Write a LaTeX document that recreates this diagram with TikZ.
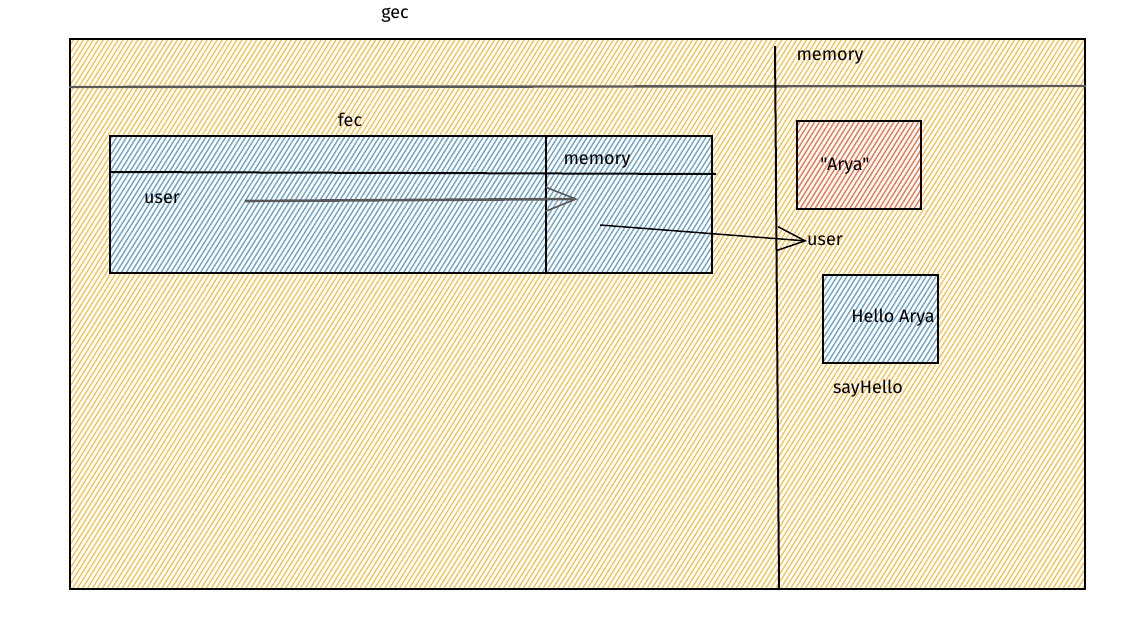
\documentclass[tikz,border=0pt]{standalone}
\usepackage{fontspec}
\setmainfont{Fira Sans}[Ligatures=TeXOff]
\usetikzlibrary{patterns.meta,arrows.meta}
\definecolor{hyellow}{HTML}{F6BE45}
\definecolor{hblue}{HTML}{5FA8E8}
\definecolor{hred}{HTML}{F2725E}
\begin{document}
\begin{tikzpicture}[x=1pt,y=-1pt,
  frame/.style={draw=black, line width=2pt, inner sep=0pt, anchor=north west},
  yhatch/.style={pattern={Lines[angle=58,distance=4.2pt,line width=1.2pt]}, pattern color=hyellow},
  bhatch/.style={pattern={Lines[angle=58,distance=4.2pt,line width=1.2pt]}, pattern color=hblue},
  rhatch/.style={pattern={Lines[angle=58,distance=4.2pt,line width=1.2pt]}, pattern color=hred},
  lbl/.style={font=\fontsize{18}{20}\selectfont, inner sep=0pt},
  rule/.style={draw=black, line width=2pt},
  grule/.style={draw=black!65, line width=2.4pt},
  arr/.style={draw=black, line width=1.5pt, -{Straight Barb[length=28pt,width=24pt,line width=1.5pt]}},
  garr/.style={draw=black!65, line width=2.6pt, -{Straight Barb[length=30pt,width=24pt,line width=1.6pt]}}
]
\useasboundingbox (0,0) rectangle (1146,641);
\fill[white] (0,0) rectangle (1146,641);

% gec outer frame
\node[frame, yhatch, minimum width=1015pt, minimum height=550pt] (gec) at (69,38) {};
\node[lbl] (geclbl) at (395,15) {gec};
\coordinate (gh1) at (69,87);
\coordinate (gh2) at (1086,86);
\draw[grule] (gh1) -- (gh2);
\coordinate (gv1) at (775,46);
\coordinate (gv2) at (779,590);
\draw[rule] (gv1) -- (gv2);
\node[lbl] (gmem) at (830,58) {memory};

% fec frame
\node[frame, bhatch, minimum width=602pt, minimum height=137pt] (fec) at (109,135) {};
\node[lbl] (feclbl) at (350,120) {fec};
\coordinate (fh1) at (109,172);
\coordinate (fh2) at (716,174);
\draw[rule] (fh1) -- (fh2);
\coordinate (fv1) at (546,135);
\coordinate (fv2) at (546,272);
\draw[rule] (fv1) -- (fv2);
\node[lbl] (fmem) at (597,162) {memory};
\node[lbl] (fuser) at (162,199) {user};
\coordinate (a1s) at (245,201);
\coordinate (a1e) at (578,199);
\draw[garr] (a1s) -- (a1e);
\coordinate (a2s) at (600,225);

% memory heap
\node[frame, rhatch, minimum width=124pt, minimum height=88pt] (arya) at (796,120) {};
\node[lbl] (aryalbl) at (845,166) {"Arya"};
\node[lbl, anchor=west] (muser) at (807,241) {user};
\draw[arr] (a2s) -- (muser.west);

\node[frame, bhatch, minimum width=115pt, minimum height=88pt] (hello) at (822,274) {};
\node[lbl] (hellolbl) at (893,318) {Hello Arya};
\node[lbl] (sayhello) at (868,389) {sayHello};
\end{tikzpicture}
\end{document}
